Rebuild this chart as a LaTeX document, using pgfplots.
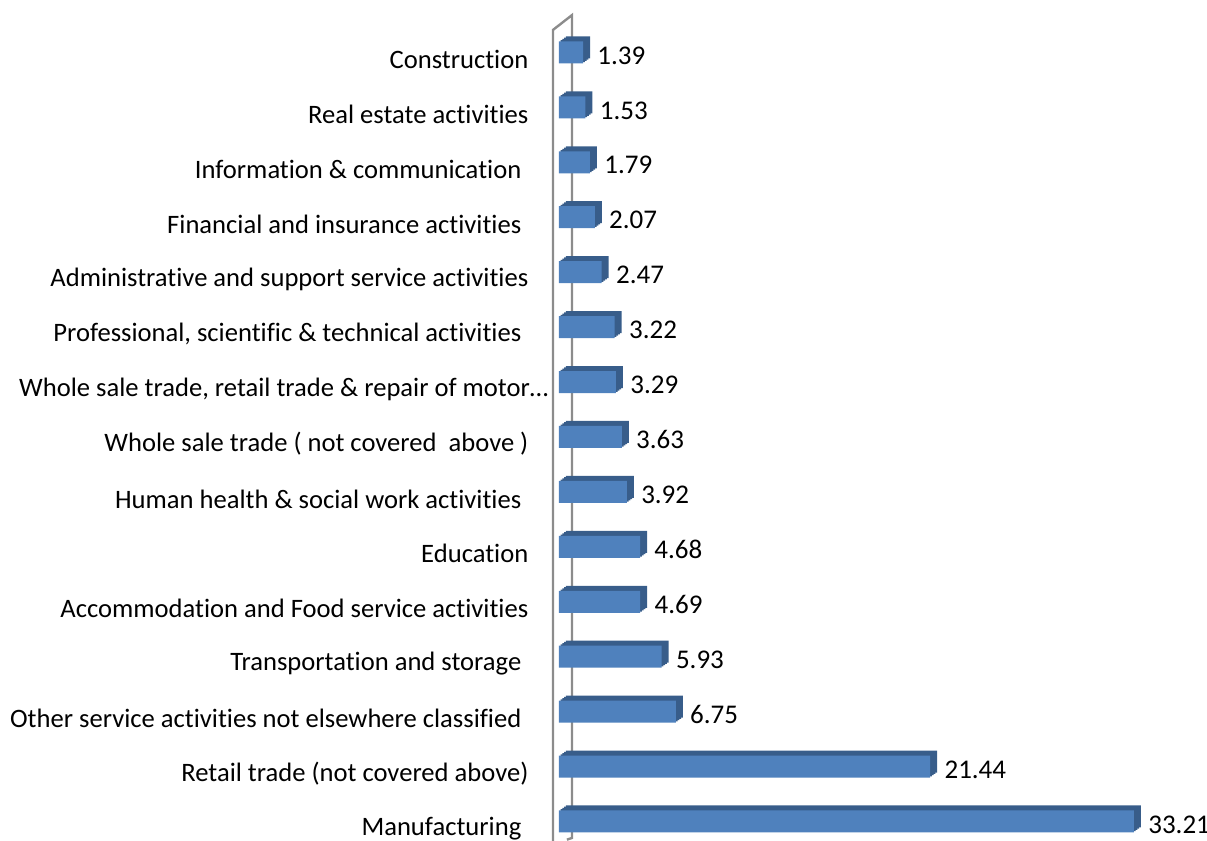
\documentclass[border=0pt]{standalone}
\usepackage{pgfplots}
\usepackage{pgfplotstable}
\pgfplotsset{compat=1.18}
\usepackage{fontspec}
\setmainfont{Carlito}[Ligatures=NoCommon]
\definecolor{barfront}{HTML}{4F81BD}
\definecolor{barside}{HTML}{385D8A}
\definecolor{wall}{HTML}{8C8C8C}

\pgfplotstableread{
k v
1 33.21
2 21.44
3 6.75
4 5.93
5 4.69
6 4.68
7 3.92
8 3.63
9 3.29
10 3.22
11 2.47
12 2.07
13 1.79
14 1.53
15 1.39
}\shares

\begin{document}
\begin{tikzpicture}
\begin{axis}[
    scale only axis,
    width=324pt, height=420.5pt,
    xmin=0, xmax=37.43,
    ymin=0.645, ymax=15.955,
    axis lines=left,
    axis line style={draw=none},
    tick style={draw=none},
    clip=false,
    ytick={1,...,15},
    yticklabels={
        {Manufacturing\kern3.5pt},
        {Retail trade (not covered above)},
        {Other service activities not elsewhere classified\kern3.5pt},
        {Transportation and storage\kern3.5pt},
        {Accommodation and Food service activities},
        {Education},
        {Human health \& social work activities\kern3.5pt},
        {Whole sale trade ( not covered\ \ above )},
        {Whole sale trade, retail trade \& repair of motor…\kern-10pt},
        {Professional, scientific \& technical activities\kern3.5pt},
        {Administrative and support service activities},
        {Financial and insurance activities\kern3.5pt},
        {Information \& communication\kern3.5pt},
        {Real estate activities},
        {Construction}},
    yticklabel style={anchor=east, inner sep=0pt, xshift=-13pt, yshift=-3.5pt, font=\fontsize{13.3}{16}\selectfont},
    xtick=\empty,
    bar width=11pt,
]
% wall of the 3D axis
\addplot[wall, line width=1.2pt, no marks] coordinates {
    (-0.347,0.645) (-0.347,15.41) (0.751,15.68) (0.751,0.70) (0.46,0.67)};
% depth (top and side faces), stepped to close the top face
\addplot[xbar, bar shift=0pt, fill=barside, draw=none, xshift=3.5pt, yshift=2.5pt] table[x=v, y=k] {\shares};
\addplot[xbar, bar shift=0pt, fill=barside, draw=none, xshift=2.625pt, yshift=1.875pt] table[x=v, y=k] {\shares};
\addplot[xbar, bar shift=0pt, fill=barside, draw=none, xshift=1.75pt, yshift=1.25pt] table[x=v, y=k] {\shares};
\addplot[xbar, bar shift=0pt, fill=barside, draw=none, xshift=0.875pt, yshift=0.625pt] table[x=v, y=k] {\shares};
% front faces
\addplot[xbar, bar shift=0pt, fill=barfront, draw=none,
    point meta=x,
    nodes near coords,
    every node near coord/.append style={anchor=west, inner sep=0pt, xshift=7pt, yshift=-1.5pt,
        font=\fontsize{13.5}{16}\selectfont},
    /pgf/number format/.cd, fixed, fixed zerofill, precision=2, assume math mode=true
    ] table[x=v, y=k] {\shares};
\coordinate (bl) at (rel axis cs:0,0);
\coordinate (tr) at (rel axis cs:1,1);
\end{axis}
\pgfresetboundingbox
\useasboundingbox ([xshift=-279.5pt]bl) rectangle (tr);
\end{tikzpicture}
\end{document}
